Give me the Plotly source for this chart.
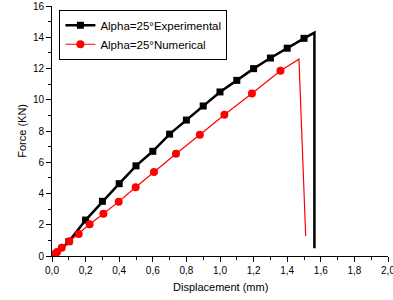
import plotly.graph_objects as go

# Experimental (black squares)
exp_x = [0.02, 0.1, 0.2, 0.3, 0.4, 0.5, 0.6, 0.7, 0.8, 0.9, 1.0, 1.1, 1.2, 1.3, 1.4, 1.5]
exp_y = [0.1, 0.92, 2.3, 3.5, 4.63, 5.77, 6.7, 7.8, 8.7, 9.6, 10.5, 11.24, 11.99, 12.67, 13.3, 13.93]
exp_tail_x = [1.5, 1.556, 1.562, 1.562]
exp_tail_y = [13.93, 14.27, 14.3, 0.49]

# Numerical (red circles)
num_x = [0.01, 0.03, 0.058, 0.103, 0.159, 0.224, 0.306, 0.397, 0.498, 0.607, 0.738, 0.88, 1.026, 1.19, 1.36]
num_y = [0.1, 0.25, 0.53, 0.94, 1.41, 2.03, 2.71, 3.48, 4.4, 5.38, 6.54, 7.76, 9.04, 10.4, 11.86]
num_tail_x = [1.36, 1.47, 1.51]
num_tail_y = [11.86, 12.6, 1.28]

x_ticks = [0, 0.2, 0.4, 0.6, 0.8, 1.0, 1.2, 1.4, 1.6, 1.8, 2.0]
x_labels = ["0,0", "0,2", "0,4", "0,6", "0,8", "1,0", "1,2", "1,4", "1,6", "1,8", "2,0"]
y_ticks = [0, 2, 4, 6, 8, 10, 12, 14, 16]

fig = go.Figure()
fig.add_trace(go.Scatter(x=exp_tail_x, y=exp_tail_y, mode="lines",
                         line=dict(color="black", width=2.5), showlegend=False, hoverinfo="skip"))
fig.add_trace(go.Scatter(x=num_tail_x, y=num_tail_y, mode="lines",
                         line=dict(color="#ff0000", width=1.2), showlegend=False, hoverinfo="skip"))
fig.add_trace(go.Scatter(x=exp_x, y=exp_y, mode="lines+markers", name="Alpha=25°Experimental",
                         line=dict(color="black", width=2.5),
                         marker=dict(symbol="square", size=7, color="black")))
fig.add_trace(go.Scatter(x=num_x, y=num_y, mode="lines+markers", name="Alpha=25°Numerical",
                         line=dict(color="#ff0000", width=1.2),
                         marker=dict(symbol="circle", size=8, color="#ff0000")))

fig.update_layout(
    width=393, height=300,
    margin=dict(l=52, r=5, t=6, b=44, autoexpand=False),
    paper_bgcolor="white", plot_bgcolor="white",
    font=dict(family="Arial, Liberation Sans, sans-serif", size=10, color="black"),
    legend=dict(x=0.022, y=0.985, xanchor="left", yanchor="top",
                bgcolor="white", bordercolor="black", borderwidth=1,
                font=dict(size=11.5), tracegroupgap=0, itemwidth=30),
    showlegend=True,
    annotations=[
        dict(text="Displacement (mm)", xref="paper", yref="paper", x=0.5, y=-0.124,
             xanchor="center", yanchor="middle", showarrow=False, font=dict(size=11)),
        dict(text="Force (KN)", xref="paper", yref="paper", x=-0.09, y=0.5,
             xanchor="center", yanchor="middle", textangle=-90, showarrow=False, font=dict(size=11)),
    ],
)
fig.update_xaxes(range=[0, 2.0], tickvals=x_ticks, ticktext=x_labels, automargin=False,
                 ticklabeloverflow="allow",
                 showline=True, linecolor="black", linewidth=1, mirror=False,
                 ticks="outside", ticklen=5, tickcolor="black", showgrid=False, zeroline=False,
                 minor=dict(dtick=0.1, ticks="outside", ticklen=3, tickcolor="black", showgrid=False))
fig.update_yaxes(range=[0, 16], tickvals=y_ticks, automargin=False,
                 showline=True, linecolor="black", linewidth=1, mirror=False,
                 ticks="outside", ticklen=5, tickcolor="black", showgrid=False, zeroline=False,
                 minor=dict(dtick=1, ticks="outside", ticklen=3, tickcolor="black", showgrid=False))

fig.write_html("out.html", config={"displayModeBar": False},
               post_script="document.body.style.margin='0px';")
